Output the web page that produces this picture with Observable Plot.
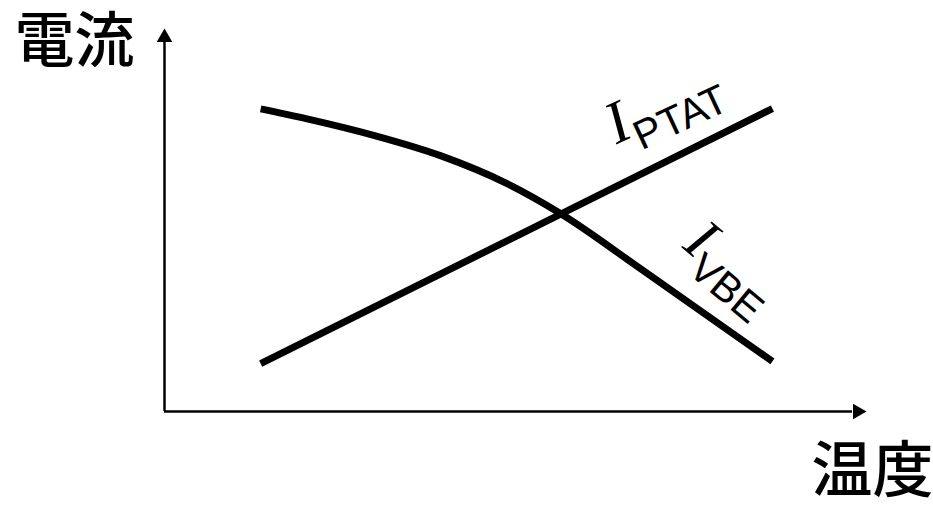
<!DOCTYPE html>
<html><head><meta charset="utf-8">
<script src="https://cdn.jsdelivr.net/npm/d3@7"></script>
<script src="https://cdn.jsdelivr.net/npm/@observablehq/plot@0.6"></script>
<style>html,body{margin:0;padding:0;background:#fff;} svg{overflow:visible;display:block}</style>
</head><body><div id="chart"></div>
<script>
// Axis titles
const xLabel = "温度";
const yLabel = "電流";
// I_PTAT series (temperature, current), arbitrary units
const ptatTemp = [13.7, 86.6];
const ptatCurrent = [12.5, 79.1];
// I_VBE series
const vbeTemp = [13.7, 20.3, 29.8, 39.3, 48.8, 56.4, 67.8, 86.6];
const vbeCurrent = [79.0, 76.4, 72.1, 66.8, 59.5, 51.7, 37.3, 13.1];
// Curve labels
const seriesNames = ["PTAT", "VBE"];
const labelTemp = [64.4, 73.6];
const labelCurrent = [69.7, 42.9];

const ptat = ptatTemp.map((t, i) => ({t, c: ptatCurrent[i]}));
const vbe = vbeTemp.map((t, i) => ({t, c: vbeCurrent[i]}));
const labels = seriesNames.map((s, i) => ({s, t: labelTemp[i], c: labelCurrent[i]}));

const plot = Plot.plot({
  width: 933, height: 510,
  marginLeft: 164, marginRight: 67, marginTop: 28, marginBottom: 99,
  x: {domain: [0, 100], axis: null},
  y: {domain: [0, 100], axis: null},
  marks: [
    Plot.ruleX([0], {y1: 0, y2: 97, stroke: "black", strokeWidth: 2.5}),
    Plot.ruleY([0], {x1: 0, x2: 98, stroke: "black", strokeWidth: 2.5}),
    Plot.dot([{t: 0, c: 100}], {x: "t", y: "c", symbol: "triangle", r: 5.8, fill: "black", stroke: "none", dy: 9}),
    Plot.dot([{t: 100, c: 0}], {x: "t", y: "c", symbol: "triangle", r: 5.8, fill: "black", stroke: "none", rotate: 90, dx: -9}),
    Plot.line(ptat, {x: "t", y: "c", stroke: "black", strokeWidth: 7, strokeLinecap: "butt"}),
    Plot.line(vbe, {x: "t", y: "c", stroke: "black", strokeWidth: 7, strokeLinecap: "butt", curve: "monotone-x"}),
    Plot.text([labels[0]], {x: "t", y: "c", text: d => "I_" + d.s, rotate: -25, textAnchor: "start", lineAnchor: "bottom"}),
    Plot.text([labels[1]], {x: "t", y: "c", text: d => "I_" + d.s, rotate: 40, textAnchor: "start", lineAnchor: "bottom"}),
    Plot.text([yLabel], {text: d => d, frameAnchor: "top-left", textAnchor: "start", lineAnchor: "bottom", dx: -150, dy: 33, fontSize: 60, fontWeight: 500, fontFamily: "Noto Sans CJK JP", fill: "black"}),
    Plot.text([xLabel], {text: d => d, frameAnchor: "bottom-right", textAnchor: "end", lineAnchor: "bottom", dx: 67, dy: 80, fontSize: 61, fontWeight: 500, fontFamily: "Noto Sans CJK JP", fill: "black"})
  ]
});

d3.select(plot).selectAll("text").each(function() {
  const t = this.textContent;
  if (!t.startsWith("I_")) return;
  const sub = t.slice(2);
  const sel = d3.select(this);
  sel.text(null);
  sel.append("tspan").attr("font-family", "Liberation Serif").attr("font-style", "italic").attr("font-size", 60).text("I");
  sel.append("tspan").attr("font-family", "Liberation Sans").attr("font-size", 41).attr("dy", 16).text(sub);
});

document.getElementById("chart").appendChild(plot);
</script>
</body></html>
